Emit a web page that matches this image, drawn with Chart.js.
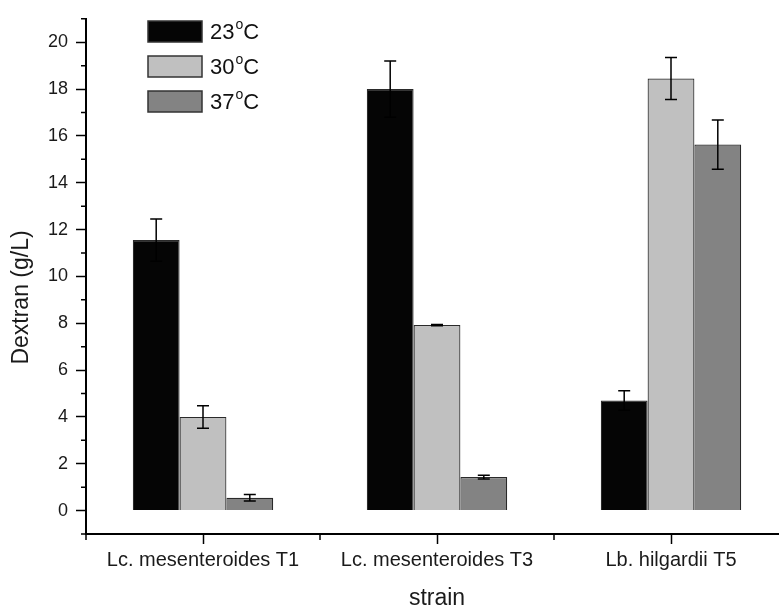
<!DOCTYPE html>
<html>
<head>
<meta charset="utf-8">
<script src="https://cdn.jsdelivr.net/npm/chart.js@4.4.1/dist/chart.umd.min.js"></script>
<style>
    html, body { margin: 0; padding: 0; background: #fff; overflow: hidden; }
    canvas { display: block; }
</style>
</head>
<body>
<canvas id="barChart" width="788" height="608"></canvas>
<script>
const strains = ['Lc. mesenteroides T1', 'Lc. mesenteroides T3', 'Lb. hilgardii T5'];
const temps = ['23\u00B0C', '30\u00B0C', '37\u00B0C'];

const dextran23 = [11.55, 18.0, 4.7];
const dextran30 = [4.0, 7.92, 18.45];
const dextran37 = [0.55, 1.43, 15.63];

const err23 = [0.9, 1.2, 0.42];
const err30 = [0.48, 0.03, 0.9];
const err37 = [0.14, 0.08, 1.05];

const yMin = -1;
const yMax = 21;
const yTitle = 'Dextran (g/L)';

const fills = ['#050505', '#c0c0c0', '#838383'];
const fontFamily = '"Liberation Sans", Arial, sans-serif';

// error bars, drawn through the y scale
const errorBars = {
    id: 'errorBars',
    afterDatasetsDraw: function (chart) {
        var ctx = chart.ctx;
        var y = chart.scales.y;
        ctx.save();
        ctx.strokeStyle = '#000';
        ctx.lineWidth = 1.5;
        chart.data.datasets.forEach(function (ds, di) {
            var meta = chart.getDatasetMeta(di);
            meta.data.forEach(function (bar, i) {
                var v = ds.data[i];
                var e = ds.errors[i];
                var top = y.getPixelForValue(v + e);
                var bot = y.getPixelForValue(v - e);
                ctx.beginPath();
                ctx.moveTo(bar.x, top);
                ctx.lineTo(bar.x, bot);
                ctx.moveTo(bar.x - 6, top);
                ctx.lineTo(bar.x + 6, top);
                ctx.moveTo(bar.x - 6, bot);
                ctx.lineTo(bar.x + 6, bot);
                ctx.stroke();
            });
        });
        ctx.restore();
    }
};

// minor ticks on both axes + y title (sits a bit below centre, as in the original)
const axisExtras = {
    id: 'axisExtras',
    afterDraw: function (chart) {
        var ctx = chart.ctx;
        var x = chart.scales.x;
        var y = chart.scales.y;
        ctx.save();
        ctx.strokeStyle = '#000';
        ctx.lineWidth = 1.5;
        ctx.beginPath();
        for (var v = yMin; v <= yMax; v++) {
            if (v % 2 === 0) continue;
            var py = y.getPixelForValue(v);
            ctx.moveTo(y.right - 5, py);
            ctx.lineTo(y.right, py);
        }
        for (var i = 0; i <= strains.length; i++) {
            var px = x.getPixelForValue(i - 0.5);
            ctx.moveTo(px, x.top);
            ctx.lineTo(px, x.top + 6);
        }
        ctx.stroke();

        ctx.translate(22, y.getPixelForValue(9.1));
        ctx.rotate(-Math.PI / 2);
        ctx.fillStyle = '#1a1a1a';
        ctx.font = '23px ' + fontFamily;
        ctx.textAlign = 'center';
        ctx.textBaseline = 'middle';
        ctx.fillText(yTitle, 0, 0);
        ctx.restore();
    }
};

// legend inside the plot, top left, with superscript o
const boxLegend = {
    id: 'boxLegend',
    afterDraw: function (chart) {
        var ctx = chart.ctx;
        ctx.save();
        chart.data.datasets.forEach(function (ds, i) {
            var top = 21 + i * 35;
            ctx.fillStyle = ds.backgroundColor;
            ctx.fillRect(148, top, 54, 21);
            ctx.strokeStyle = '#333';
            ctx.lineWidth = 1.5;
            ctx.strokeRect(148, top, 54, 21);

            var parts = ds.label.split('\u00B0');
            var tx = 210;
            var ty = top + 12;
            ctx.fillStyle = '#111';
            ctx.textBaseline = 'middle';
            ctx.textAlign = 'left';
            ctx.font = '22px ' + fontFamily;
            ctx.fillText(parts[0], tx, ty);
            tx += ctx.measureText(parts[0]).width + 1;
            ctx.font = '14px ' + fontFamily;
            ctx.fillText('o', tx, ty - 8);
            tx += ctx.measureText('o').width;
            ctx.font = '22px ' + fontFamily;
            ctx.fillText(parts[1], tx, ty);
        });
        ctx.restore();
    }
};

const chartData = {
    labels: strains,
    datasets: [
        { label: temps[0], data: dextran23, errors: err23, backgroundColor: fills[0] },
        { label: temps[1], data: dextran30, errors: err30, backgroundColor: fills[1] },
        { label: temps[2], data: dextran37, errors: err37, backgroundColor: fills[2] }
    ].map(function (d) {
        d.borderColor = '#2a2a2a';
        d.borderWidth = 1.2;
        d.categoryPercentage = 0.6;
        d.barPercentage = 1.0;
        return d;
    })
};

new Chart(document.getElementById('barChart'), {
    type: 'bar',
    data: chartData,
    plugins: [errorBars, axisExtras, boxLegend],
    options: {
        responsive: false,
        animation: false,
        layout: {
            padding: { top: 13, right: 0, left: 0, bottom: 0 }
        },
        plugins: {
            legend: { display: false },
            tooltip: { enabled: false }
        },
        scales: {
            x: {
                offset: true,
                grid: {
                    offset: false,
                    drawOnChartArea: false,
                    tickLength: 10,
                    tickWidth: 1.5,
                    tickColor: '#000'
                },
                border: { color: '#000', width: 2 },
                ticks: {
                    color: '#1a1a1a',
                    padding: 4,
                    maxRotation: 0,
                    autoSkip: false,
                    font: { family: fontFamily, size: 20 }
                },
                title: {
                    display: true,
                    text: 'strain',
                    color: '#1a1a1a',
                    padding: 0,
                    font: { family: fontFamily, size: 23, lineHeight: 0.85 }
                },
                afterFit: function (s) {
                    s.height = 74;
                    s.paddingLeft = 0;
                    s.paddingRight = 0;
                }
            },
            y: {
                min: yMin,
                max: yMax,
                grid: {
                    drawOnChartArea: false,
                    tickLength: 10,
                    tickWidth: 1.5,
                    tickColor: function (c) {
                        var v = c.tick ? c.tick.value : 1;
                        return (v % 2 === 0) ? '#000' : 'rgba(0,0,0,0)';
                    }
                },
                border: { color: '#000', width: 2 },
                ticks: {
                    stepSize: 1,
                    autoSkip: false,
                    color: '#1a1a1a',
                    padding: 8,
                    font: { family: fontFamily, size: 18 },
                    callback: function (v) {
                        return (v % 2 === 0) ? v : '';
                    }
                },
                afterFit: function (s) {
                    s.width = 86;
                }
            }
        }
    }
});
</script>
</body>
</html>
